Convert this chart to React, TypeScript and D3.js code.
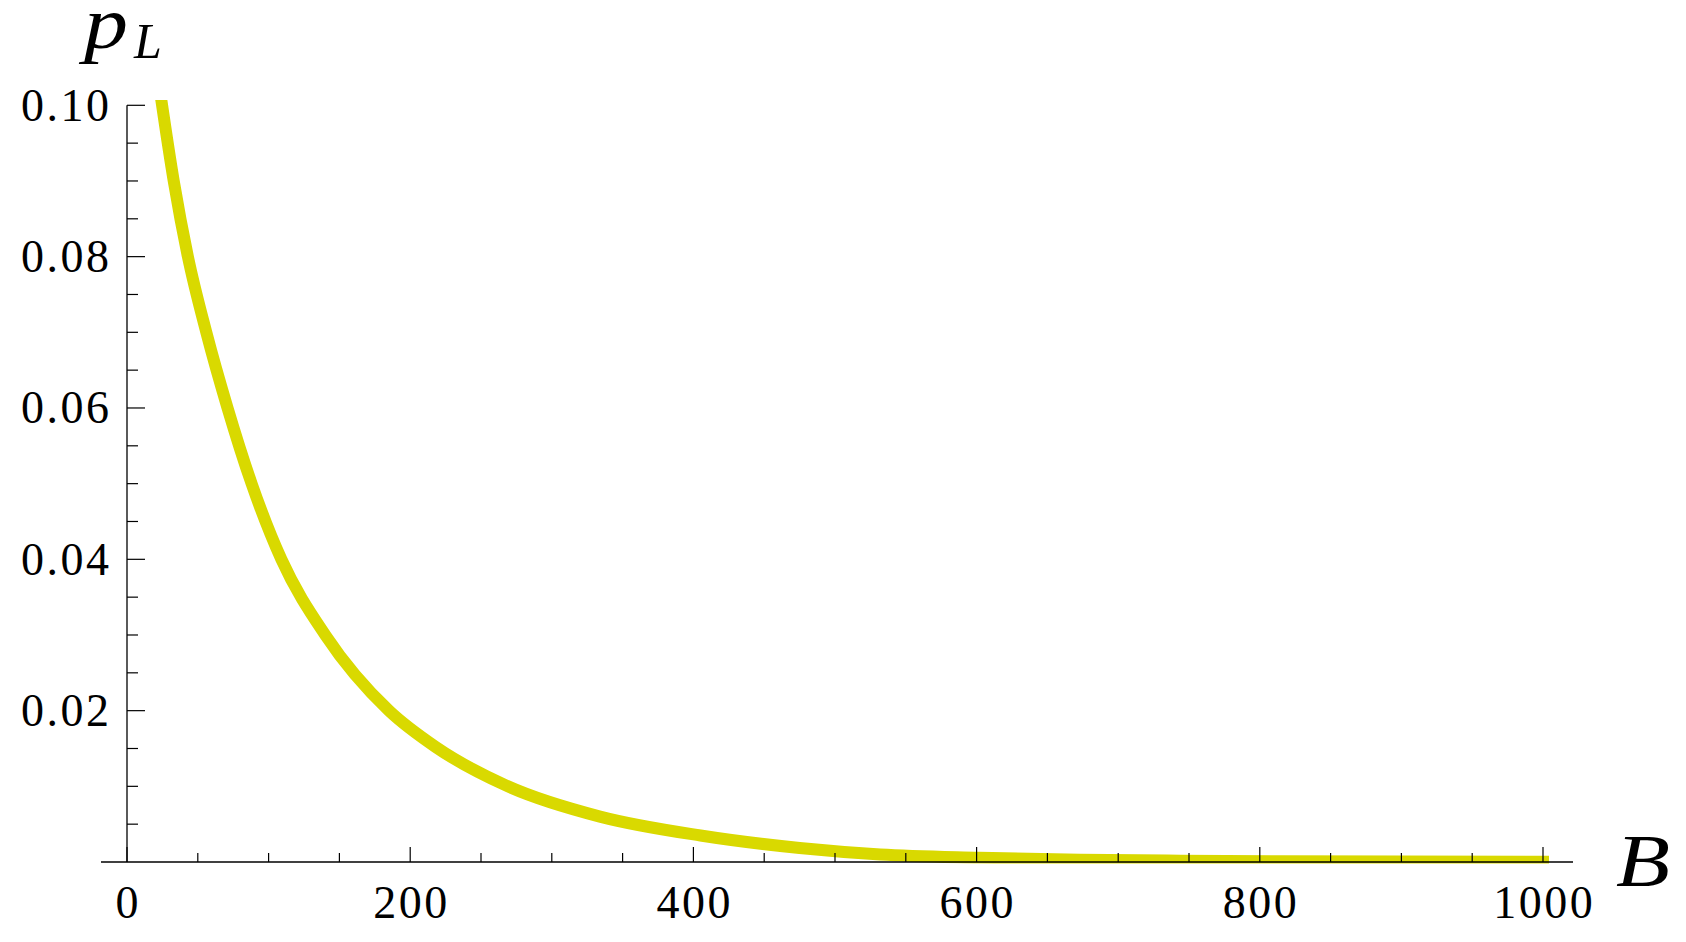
import React from "react";
import * as d3 from "d3";

const bValues = [24, 33, 43, 56, 71, 88, 109, 140, 185, 218, 269, 334, 405, 475, 532, 602, 673, 744, 814, 900, 1000];
const pValues = [0.101, 0.09, 0.08, 0.07, 0.06, 0.05, 0.04, 0.030, 0.02, 0.0152, 0.01, 0.006, 0.0035, 0.00185, 0.001, 0.00057, 0.0003, 0.00017, 0.0001, 0.00005, 0.00002];
const xTickLabels = [0, 200, 400, 600, 800, 1000];
const yTickLabels = [0.02, 0.04, 0.06, 0.08, 0.1];

const W = 1686;
const H = 942;
const FONT = "'Liberation Serif', 'Times New Roman', serif";

export default function App() {
  const x = d3.scaleLinear().domain([0, 1000]).range([127, 1543]);
  const y = d3.scaleLinear().domain([0, 0.1]).range([862, 105.3]);
  const data = bValues.map((b, i) => [b, pValues[i]] as [number, number]);
  const line = d3
    .line<[number, number]>()
    .x((d) => x(d[0]))
    .y((d) => y(d[1]))
    .curve(d3.curveMonotoneX);

  const xMinor = d3.range(0, 1001, 50);
  const yMinor = d3.range(0.005, 0.1001, 0.005);
  const ls = 2.5;

  return (
    <svg
      width={W}
      height={H}
      style={{ position: "absolute", left: 0, top: 0, background: "#fff" }}
    >
      <defs>
        <clipPath id="plotclip">
          <rect x={0} y={100} width={W} height={763.5} />
        </clipPath>
      </defs>
      <rect x={0} y={0} width={W} height={H} fill="#fff" />
      <path
        d={line(data) || ""}
        fill="none"
        stroke="#d9d900"
        strokeWidth={12}
        strokeLinecap="square"
        strokeLinejoin="round"
        clipPath="url(#plotclip)"
      />
      {/* x axis */}
      <line x1={101} x2={1573} y1={862} y2={862} stroke="#000" strokeWidth={1.3} />
      {xMinor.map((v) => {
        const major = v % 200 === 0;
        return (
          <line
            key={"xt" + v}
            x1={x(v)}
            x2={x(v)}
            y1={862}
            y2={major ? 847 : 853}
            stroke="#000"
            strokeWidth={1.2}
          />
        );
      })}
      {xTickLabels.map((v) => (
        <text
          key={"xl" + v}
          x={x(v) + ls / 2}
          y={918}
          textAnchor="middle"
          fontFamily={FONT}
          fontSize={46}
          letterSpacing={ls}
          fill="#000"
        >
          {String(v)}
        </text>
      ))}
      {/* y axis */}
      <line x1={127} x2={127} y1={105.3} y2={862} stroke="#000" strokeWidth={1.3} />
      {yMinor.map((v, i) => {
        const major = (i + 1) % 4 === 0;
        return (
          <line
            key={"yt" + i}
            x1={127}
            x2={major ? 145 : 138}
            y1={y(v)}
            y2={y(v)}
            stroke="#000"
            strokeWidth={1.2}
          />
        );
      })}
      {yTickLabels.map((v) => (
        <text
          key={"yl" + v}
          x={109 + ls}
          y={y(v) + 15.5}
          textAnchor="end"
          fontFamily={FONT}
          fontSize={46}
          letterSpacing={ls}
          fill="#000"
        >
          {v.toFixed(2)}
        </text>
      ))}
      {/* axis labels */}
      <text
        x={84}
        y={48}
        fontFamily={FONT}
        fontStyle="italic"
        fontSize={74}
        textLength={44}
        lengthAdjust="spacingAndGlyphs"
        fill="#000"
      >
        p
      </text>
      <text x={134} y={58} fontFamily={FONT} fontStyle="italic" fontSize={50} fill="#000">
        L
      </text>
      <text
        x={1616}
        y={886}
        fontFamily={FONT}
        fontStyle="italic"
        fontSize={74}
        textLength={54}
        lengthAdjust="spacingAndGlyphs"
        fill="#000"
      >
        B
      </text>
    </svg>
  );
}
